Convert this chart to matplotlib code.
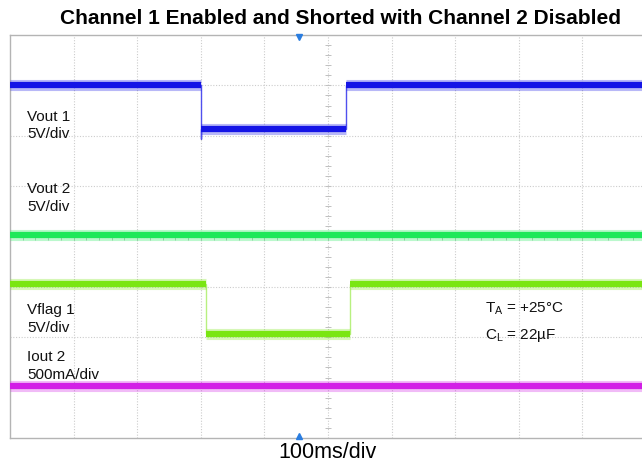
import matplotlib
matplotlib.use('Agg')
import matplotlib.pyplot as plt
import numpy as np

plt.rcParams['font.family'] = ['Liberation Sans', 'DejaVu Sans']

title = "Channel 1 Enabled and Shorted with Channel 2 Disabled"
xlabel = "100ms/div"

# time / level in screen divisions (10 x 8 grid)
vout1_t = [0.0, 3.0, 3.0, 3.0, 5.28, 5.28, 10.0]
vout1_v = [7.0, 7.0, 5.93, 6.13, 6.13, 7.0, 7.0]
vout2_t = [0.0, 10.0]
vout2_v = [4.03, 4.03]
vflag1_t = [0.0, 3.08, 3.08, 5.35, 5.35, 10.0]
vflag1_v = [3.06, 3.06, 2.06, 2.06, 3.06, 3.06]
iout2_t = [0.0, 10.0]
iout2_v = [1.03, 1.03]

trace_names = ["Vout 1", "Vout 2", "Vflag 1", "Iout 2"]
trace_scales = ["5V/div", "5V/div", "5V/div", "500mA/div"]
trace_colors = ["#1414e6", "#1ee85a", "#7ae612", "#d21ee6"]
edge_colors = ["#5050ee", "#80f0a0", "#b8f080", "#e080f0"]
label_y = [(6.37, 6.03), (4.94, 4.59), (2.54, 2.18), (1.61, 1.25)]

trigger_t = 4.54

fig = plt.figure(figsize=(6.42, 4.66), dpi=100)
ax = fig.add_axes([10/642, 28/466, 636/642, 403/466])
ax.set_xlim(0, 10)
ax.set_ylim(0, 8)
ax.set_xticks([])
ax.set_yticks([])
for s in ax.spines.values():
    s.set_color('#b4b4b4')
    s.set_linewidth(1.0)

# grid
for gx in range(1, 10):
    ax.axvline(gx, color='#cccccc', lw=0.8, ls=(0, (1, 1.5)), zorder=1)
for gy in range(1, 8):
    ax.axhline(gy, color='#cccccc', lw=0.8, ls=(0, (1, 1.5)), zorder=1)
# center minor ticks
mx = np.arange(0.2, 10, 0.2)
ax.plot(mx, np.full_like(mx, 4.0), ls='none', marker='|', ms=4, mew=0.7, color='#c0c0c0', zorder=1)
my = np.arange(0.2, 8, 0.2)
ax.plot(np.full_like(my, 5.0), my, ls='none', marker='_', ms=4, mew=0.7, color='#c0c0c0', zorder=1)

traces = [(vout1_t, vout1_v), (vout2_t, vout2_v), (vflag1_t, vflag1_v), (iout2_t, iout2_v)]
for (t, v), c, ec in zip(traces, trace_colors, edge_colors):
    ax.plot(t, v, color=ec, lw=1.0, zorder=2, solid_joinstyle='miter')
    for i in range(len(t) - 1):
        if v[i] == v[i + 1] and t[i + 1] > t[i]:
            ax.plot([t[i], t[i + 1]], [v[i], v[i]], color=c, lw=8, alpha=0.3,
                    solid_capstyle='butt', zorder=3)
            ax.plot([t[i], t[i + 1]], [v[i], v[i]], color=c, lw=4.5,
                    solid_capstyle='butt', zorder=4)

for name, sc, (y1, y2) in zip(trace_names, trace_scales, label_y):
    ax.text(0.27, y1, name, fontsize=11, va='center', ha='left', color='#111111', zorder=5)
    ax.text(0.27, y2, sc, fontsize=11, va='center', ha='left', color='#111111', zorder=5)

ax.text(7.47, 2.56, "T$_\\mathregular{A}$ = +25°C", fontsize=11, va='center', ha='left', color='#111111')
ax.text(7.47, 2.04, "C$_\\mathregular{L}$ = 22µF", fontsize=11, va='center', ha='left', color='#111111')

# trigger markers
ax.plot([trigger_t], [7.97], marker='v', ms=5, color='#2a7de0', clip_on=False, zorder=6)
ax.plot([trigger_t], [0.03], marker='^', ms=5, color='#2a7de0', clip_on=False, zorder=6)

fig.text(341/642, 1 - 18/466, title, fontsize=15, fontweight='bold', ha='center', va='center')
fig.text(327/642, 1 - 453/466, xlabel, fontsize=15.5, ha='center', va='center')

fig.savefig('out.png', dpi=100)
